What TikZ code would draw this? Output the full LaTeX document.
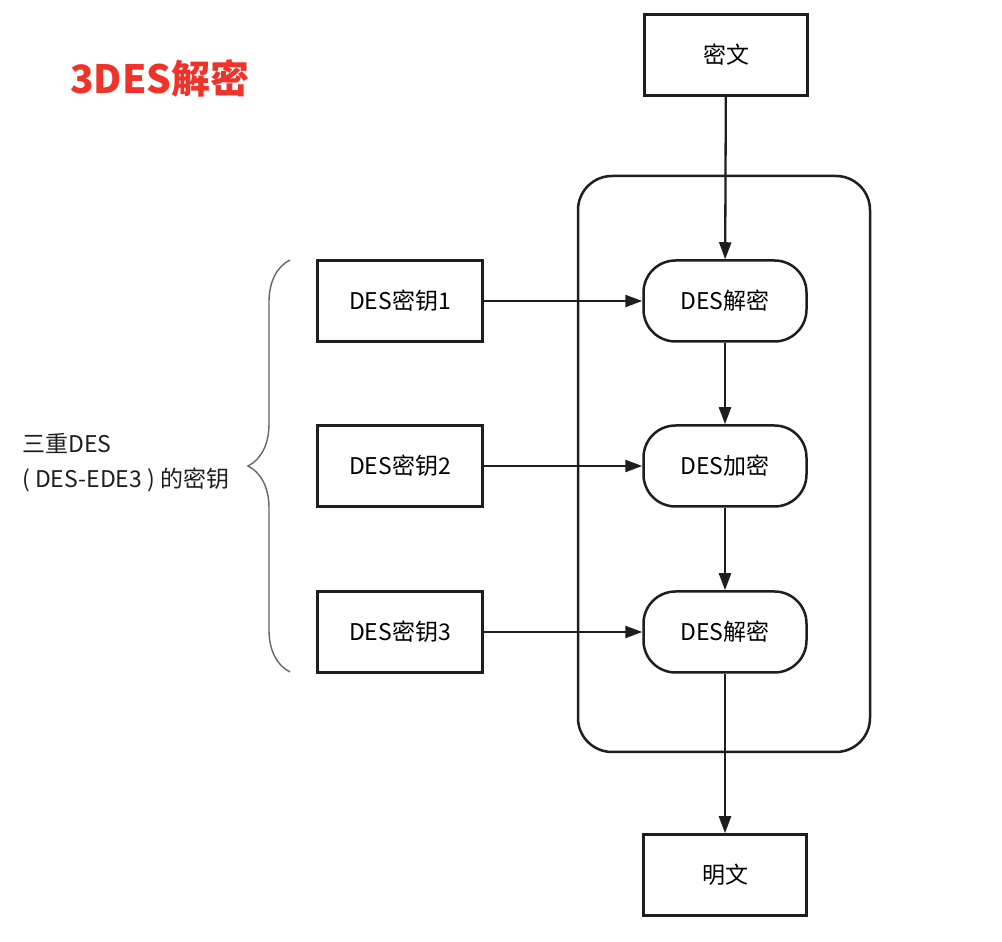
\documentclass[tikz,border=0pt]{standalone}
\usepackage{fontspec}
\setmainfont{Noto Sans CJK SC}
\usepackage{tikz}
\usepackage{xcolor}
\usetikzlibrary{positioning,arrows.meta,decorations.pathreplacing}

\begin{document}
\begin{tikzpicture}[x=1pt,y=1pt,
  txtbox/.style={draw,line width=2.5pt,minimum width=163pt,minimum height=81pt,inner sep=0pt,font=\fontsize{23}{27}\selectfont},
  procbox/.style={txtbox,rounded corners=32pt},
  flow/.style={line width=2.3pt,-{Triangle[length=17pt,width=12pt]}}]
\definecolor{fillColor}{RGB}{255,255,255}
\definecolor{drawColor}{RGB}{30,30,30}
\definecolor{titleColor}{RGB}{238,52,42}
\path[use as bounding box,fill=fillColor] (0,0) rectangle (1002,942);

\node[text=titleColor,anchor=west,inner sep=0pt,font=\fontsize{39}{43}\selectfont\bfseries] (title) at (70,864) {3DES解密};

\draw[draw=drawColor,line width=2.5pt,rounded corners=34pt] (578,190) rectangle (870,766);

\node[txtbox,draw=drawColor] (ct) at (726,887) {密文};
\node[procbox,draw=drawColor] (dec1) at (725,641) {DES解密};
\node[procbox,draw=drawColor] (enc2) at (725,476) {DES加密};
\node[procbox,draw=drawColor] (dec3) at (725,310) {DES解密};
\node[txtbox,draw=drawColor] (pt) at (725,67) {明文};

\node[txtbox,draw=drawColor,minimum width=165pt] (key1) at (400,641) {DES密钥1};
\node[txtbox,draw=drawColor,minimum width=165pt] (key2) at (400,476) {DES密钥2};
\node[txtbox,draw=drawColor,minimum width=165pt] (key3) at (400,310) {DES密钥3};

\draw[flow,draw=drawColor] (ct) -- (dec1);
\draw[flow,draw=drawColor] (dec1) -- (enc2);
\draw[flow,draw=drawColor] (enc2) -- (dec3);
\draw[flow,draw=drawColor] (dec3) -- (pt);
\draw[flow,draw=drawColor] (key1) -- (dec1);
\draw[flow,draw=drawColor] (key2) -- (enc2);
\draw[flow,draw=drawColor] (key3) -- (dec3);

\coordinate (brbot) at (290,270);
\coordinate (brtop) at (290,682);
\draw[draw=gray!80!black,line width=1.4pt,decorate,decoration={brace,amplitude=42pt}] (brbot) -- (brtop);

\node[text=drawColor,anchor=west,align=left,inner sep=0pt,font=\fontsize{23}{35}\selectfont] (keylbl) at (22,479) {三重DES\\( DES-EDE3 ) 的密钥};
\end{tikzpicture}
\end{document}
